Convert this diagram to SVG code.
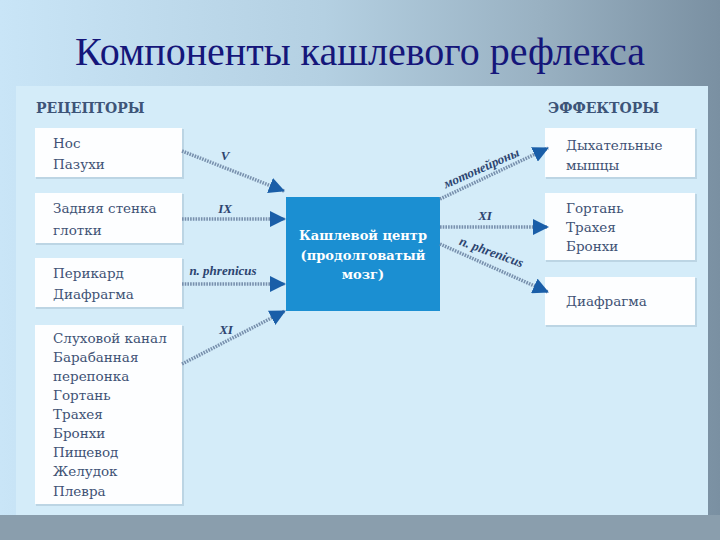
<svg xmlns="http://www.w3.org/2000/svg" width="720" height="540" viewBox="0 0 720 540" font-family="'Liberation Serif', serif">
<style>
.title{font-family:'Liberation Serif',serif;font-size:40px;fill:#15167a}
.hdr{font-family:'DejaVu Serif',serif;font-weight:bold;font-size:14px;fill:#3d5478}
.box{fill:#fdfeff}
.shadow{fill:#bcd5e4}
.t{font-family:'DejaVu Serif',serif;font-size:13.5px;fill:#3f5275}
.ct{font-family:'DejaVu Serif',serif;font-weight:bold;font-size:13px;fill:#ffffff;text-anchor:middle}
.lbl{font-family:'Liberation Serif',serif;font-style:italic;font-weight:bold;font-size:13px;fill:#2c4470}
.conn{stroke:#7890ad;stroke-width:3.5;stroke-dasharray:1.6 1.1;fill:none}
</style>
<defs>
<linearGradient id="bg" x1="0" y1="0" x2="1" y2="0">
<stop offset="0" stop-color="#c9e5f7"/>
<stop offset="0.45" stop-color="#b4d0e2"/>
<stop offset="0.75" stop-color="#99b1c2"/>
<stop offset="1" stop-color="#7a90a2"/>
</linearGradient>
<marker id="ah" markerUnits="userSpaceOnUse" markerWidth="16" markerHeight="16" refX="15" refY="8" orient="auto">
<path d="M0,0 L16,8 L0,16 z" fill="#1a5ea8"/>
</marker>
</defs>
<rect x="0" y="0" width="720" height="540" fill="url(#bg)"/>
<rect x="0" y="515" width="720" height="25" fill="#8a9ead"/>
<text class="title" x="360" y="65" text-anchor="middle">Компоненты кашлевого рефлекса</text>
<rect x="16" y="86" width="692" height="429" fill="#d4ecf9"/>

<text class="hdr" x="36" y="113">РЕЦЕПТОРЫ</text>
<text class="hdr" x="548" y="113">ЭФФЕКТОРЫ</text>

<g id="r1">
<rect class="shadow" x="36" y="129" width="148" height="50"/>
<rect class="box" x="35" y="128" width="147" height="49"/>
<text class="t" x="53" y="148">Нос</text>
<text class="t" x="53" y="169">Пазухи</text>
</g>
<g id="r2">
<rect class="shadow" x="36" y="194" width="148" height="51"/>
<rect class="box" x="35" y="193" width="147" height="50"/>
<text class="t" x="53" y="213">Задняя стенка</text>
<text class="t" x="53" y="235">глотки</text>
</g>
<g id="r3">
<rect class="shadow" x="36" y="259" width="148" height="50"/>
<rect class="box" x="35" y="258" width="147" height="49"/>
<text class="t" x="53" y="278">Перикард</text>
<text class="t" x="53" y="299">Диафрагма</text>
</g>
<g id="r4">
<rect class="shadow" x="36" y="326" width="148" height="180"/>
<rect class="box" x="35" y="325" width="147" height="179"/>
<text class="t" x="53" y="343">Слуховой канал</text>
<text class="t" x="53" y="362">Барабанная</text>
<text class="t" x="53" y="381">перепонка</text>
<text class="t" x="53" y="400">Гортань</text>
<text class="t" x="53" y="419">Трахея</text>
<text class="t" x="53" y="438">Бронхи</text>
<text class="t" x="53" y="457">Пищевод</text>
<text class="t" x="53" y="476">Желудок</text>
<text class="t" x="53" y="496">Плевра</text>
</g>

<g id="center">
<rect x="286" y="197" width="154" height="114" fill="#1b8fd2"/>
<text class="ct" x="363" y="240">Кашлевой центр</text>
<text class="ct" x="363" y="260">(продолговатый</text>
<text class="ct" x="363" y="279">мозг)</text>
</g>

<g id="e1">
<rect class="shadow" x="546" y="129" width="151" height="50"/>
<rect class="box" x="545" y="128" width="150" height="49"/>
<text class="t" x="566" y="150">Дыхательные</text>
<text class="t" x="566" y="170">мышцы</text>
</g>
<g id="e2">
<rect class="shadow" x="546" y="194" width="151" height="68"/>
<rect class="box" x="545" y="193" width="150" height="67"/>
<text class="t" x="566" y="213">Гортань</text>
<text class="t" x="566" y="232">Трахея</text>
<text class="t" x="566" y="251">Бронхи</text>
</g>
<g id="e3">
<rect class="shadow" x="546" y="278" width="151" height="49"/>
<rect class="box" x="545" y="277" width="150" height="48"/>
<text class="t" x="566" y="306">Диафрагма</text>
</g>

<g id="connectors">
<line class="conn" x1="182" y1="151" x2="284" y2="191" marker-end="url(#ah)"/>
<line class="conn" x1="182" y1="219" x2="285" y2="219" marker-end="url(#ah)"/>
<line class="conn" x1="182" y1="284" x2="285" y2="284" marker-end="url(#ah)"/>
<line class="conn" x1="182" y1="364" x2="285" y2="311" marker-end="url(#ah)"/>
<line class="conn" x1="440" y1="199" x2="548" y2="148" marker-end="url(#ah)"/>
<line class="conn" x1="440" y1="227" x2="548" y2="227" marker-end="url(#ah)"/>
<line class="conn" x1="440" y1="244" x2="548" y2="292" marker-end="url(#ah)"/>
<text class="lbl" x="225" y="160" text-anchor="middle">V</text>
<text class="lbl" x="225" y="213" text-anchor="middle">IX</text>
<text class="lbl" x="223" y="275" text-anchor="middle">n. phrenicus</text>
<text class="lbl" x="226" y="334" text-anchor="middle">XI</text>
<text class="lbl" x="485" y="220" text-anchor="middle">XI</text>
<text class="lbl" transform="translate(483,172) rotate(-24)" text-anchor="middle" font-size="14">мотонейроны</text>
<text class="lbl" transform="translate(490,256) rotate(20)" text-anchor="middle" font-size="14">n. phrenicus</text>
</g>
</svg>
